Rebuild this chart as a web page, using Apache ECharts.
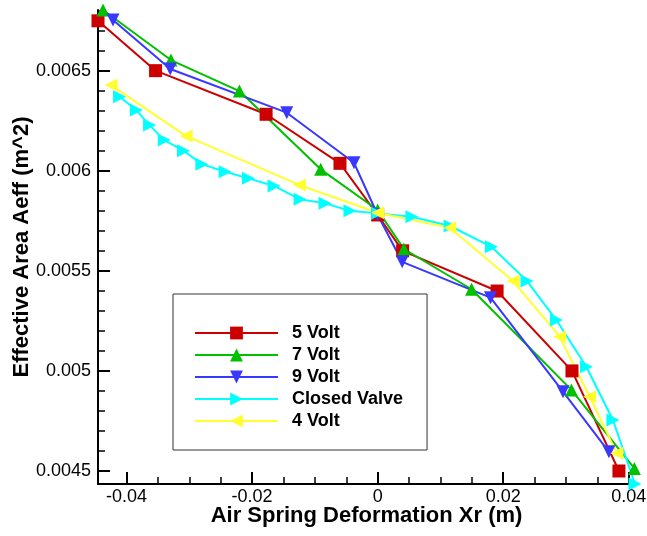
<!DOCTYPE html>
<html>
<head>
<meta charset="utf-8">
<script src="https://cdn.jsdelivr.net/npm/echarts@6/dist/echarts.min.js"></script>
<style>
  html, body { margin: 0; padding: 0; background: #fff; }
  #chart { width: 647px; height: 536px; }
</style>
</head>
<body>
<div id="chart"></div>
<script>
// values
var seriesNames = ['5 Volt', '7 Volt', '9 Volt', 'Closed Valve', '4 Volt'];

var xVolt5 = [-0.04455, -0.03538, -0.01777, -0.0060, 0, 0.00398, 0.01903, 0.03096, 0.03844];
var yVolt5 = [0.006749, 0.0065, 0.006282, 0.006037, 0.005779, 0.0056, 0.005399, 0.005, 0.0045];

var xVolt7 = [-0.04375, -0.03293, -0.02202, -0.00907, 0, 0.00418, 0.01496, 0.03087, 0.0409];
var yVolt7 = [0.006803, 0.006553, 0.006398, 0.006007, 0.005804, 0.005609, 0.005408, 0.004905, 0.004513];

var xVolt9 = [-0.04216, -0.03304, -0.01448, -0.00377, 0, 0.00391, 0.01798, 0.02953, 0.03685];
var yVolt9 = [0.006753, 0.006508, 0.00629, 0.00604, 0.00578, 0.005545, 0.005366, 0.004896, 0.004596];

var xClosed = [-0.04111, -0.03845, -0.03634, -0.034, -0.03093, -0.028, -0.0243, -0.02059, -0.0165, -0.01236,
               -0.00838, -0.00441, 0, 0.00546, 0.01155, 0.01814, 0.0238, 0.02848, 0.03325, 0.03748, 0.041];
var yClosed = [0.00637, 0.006303, 0.006228, 0.006153, 0.0061, 0.006033, 0.005995, 0.005962, 0.005924, 0.005857,
               0.005837, 0.0058, 0.005787, 0.00577, 0.005724, 0.00562, 0.005449, 0.005254, 0.005021, 0.004755, 0.004435];

var xVolt4 = [-0.04248, -0.0305, -0.01247, 0, 0.0115, 0.02158, 0.029, 0.03378, 0.03812];
var yVolt4 = [0.006428, 0.006173, 0.005929, 0.00579, 0.005715, 0.005449, 0.005171, 0.004871, 0.004588];

var xTicks = [-0.04, -0.02, 0, 0.02, 0.04];
var yTicks = [0.0045, 0.005, 0.0055, 0.006, 0.0065];

function pairs(xs, ys) {
    var out = [];
    for (var i = 0; i < xs.length; i++) out.push([xs[i], ys[i]]);
    return out;
}

var font = 'Liberation Sans, Arial, sans-serif';
var myChart = echarts.init(document.getElementById('chart'));

function makeSeries(name, xs, ys, color, symbol, rotate) {
    return {
        name: name,
        type: 'line',
        data: pairs(xs, ys),
        clip: false,
        symbol: symbol,
        symbolSize: 13,
        symbolRotate: rotate,
        showAllSymbol: true,
        lineStyle: { color: color, width: 2 },
        itemStyle: { color: color },
        emphasis: { disabled: true }
    };
}

var option = {
    animation: false,
    backgroundColor: '#fff',
    textStyle: { fontFamily: font },
    grid: { left: 98, right: 12, top: 10, bottom: 52, containLabel: false, outerBoundsMode: 'none' },
    legend: {
        orient: 'vertical',
        left: 173,
        top: 294,
        padding: [30, 24, 20, 21],
        backgroundColor: '#fff',
        borderColor: '#333',
        borderWidth: 1,
        borderRadius: 0,
        itemWidth: 83,
        itemHeight: 16,
        itemGap: 4,
        data: seriesNames,
        textStyle: { fontFamily: font, fontSize: 18, fontWeight: 'bold', color: '#000', lineHeight: 16, padding: [0, 0, 0, 9] }
    },
    xAxis: {
        type: 'value',
        min: -0.04455,
        max: 0.041,
        name: 'Air Spring Deformation Xr (m)',
        nameLocation: 'middle',
        nameGap: 21,
        nameMoveOverlap: false,
        nameTextStyle: { fontFamily: font, fontSize: 22, fontWeight: 'bold', color: '#000' },
        axisLine: { onZero: false, lineStyle: { color: '#000', width: 2 } },
        axisTick: { inside: true, length: 12, customValues: xTicks, lineStyle: { color: '#000', width: 2 } },
        minorTick: { show: true, splitNumber: 4, length: 7, lineStyle: { color: '#000', width: 1.5 } },
        axisLabel: { customValues: xTicks, margin: 4, fontFamily: font, fontSize: 18, color: '#000' },
        splitLine: { show: false }
    },
    yAxis: {
        type: 'value',
        min: 0.004435,
        max: 0.006803,
        name: 'Effective Area Aeff (m^2)',
        nameLocation: 'middle',
        nameRotate: 90,
        nameGap: 65,
        nameMoveOverlap: false,
        nameTextStyle: { fontFamily: font, fontSize: 22, fontWeight: 'bold', color: '#000' },
        axisLine: { show: true, onZero: false, lineStyle: { color: '#000', width: 2 } },
        axisTick: { show: true, inside: true, length: 12, customValues: yTicks, lineStyle: { color: '#000', width: 2 } },
        minorTick: { show: true, splitNumber: 5, length: 7, lineStyle: { color: '#000', width: 1.5 } },
        axisLabel: { customValues: yTicks, margin: 7, fontFamily: font, fontSize: 18, color: '#000' },
        splitLine: { show: false }
    },
    series: [
        makeSeries(seriesNames[0], xVolt5, yVolt5, '#cc0000', 'rect', 0),
        makeSeries(seriesNames[1], xVolt7, yVolt7, '#00c000', 'triangle', 0),
        makeSeries(seriesNames[2], xVolt9, yVolt9, '#3838ff', 'triangle', 180),
        makeSeries(seriesNames[3], xClosed, yClosed, '#00ffff', 'triangle', -90),
        makeSeries(seriesNames[4], xVolt4, yVolt4, '#ffff30', 'triangle', 90)
    ]
};

myChart.setOption(option);
</script>
</body>
</html>
